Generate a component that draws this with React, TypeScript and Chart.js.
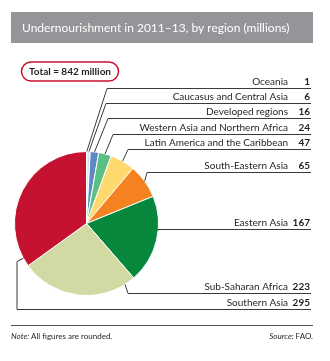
import React, { useEffect, useRef } from "react";
import { Chart, registerables } from "chart.js";

Chart.register(...registerables);

const regions = [
  "Oceania",
  "Caucasus and Central Asia",
  "Developed regions",
  "Western Asia and Northern Africa",
  "Latin America and the Caribbean",
  "South-Eastern Asia",
  "Eastern Asia",
  "Sub-Saharan Africa",
  "Southern Asia",
];
const values = [1, 6, 16, 24, 47, 65, 167, 223, 295];
const colors = [
  "#a9aeb5",
  "#d9e0e8",
  "#5b8ac6",
  "#5abf83",
  "#fdd96e",
  "#f58220",
  "#06873b",
  "#d3d9a2",
  "#c41230",
];
const titleText = "Undernourishment in 2011\u201313, by region (millions)";
const totalText = "Total = 842 million";

// leader layout: line y, anchor fraction within slice, elbow points
const leaders = [
  { y: 88, frac: 0.5, elbows: [[107, 88]] },
  { y: 103, frac: 0.6, elbows: [[106, 103]] },
  { y: 118, frac: 0.5, elbows: [[108, 118]] },
  { y: 134, frac: 0.5, elbows: [[113, 134]] },
  { y: 149, frac: 0.5, elbows: [[128, 149]] },
  { y: 172, frac: 0.5, elbows: [[147, 172]] },
  { y: 229, frac: 0.39, elbows: [[158, 229]] },
  { y: 293, frac: 0.09, elbows: [[128, 293]] },
  { y: 309, frac: 0.056, elbows: [[17, 261], [17, 309]] },
];

const FONT = "Lato, 'Open Sans', sans-serif";
const LINE_RIGHT = 311;

const decorPlugin = {
  id: "decor",
  afterDraw(chart: any) {
    const ctx = chart.ctx as CanvasRenderingContext2D;
    ctx.save();
    // title bar
    ctx.fillStyle = "#939598";
    ctx.fillRect(11, 12, 302, 31);
    ctx.fillStyle = "#ffffff";
    ctx.font = `12px ${FONT}`;
    ctx.textBaseline = "alphabetic";
    ctx.textAlign = "left";
    ctx.fillText(titleText, 22, 32);

    // total pill
    ctx.strokeStyle = "#c8102e";
    ctx.lineWidth = 1.5;
    ctx.beginPath();
    (ctx as any).roundRect(21.5, 62, 97, 19, 9.5);
    ctx.stroke();
    ctx.fillStyle = "#231f20";
    ctx.font = `bold 10px ${FONT}`;
    ctx.textAlign = "center";
    ctx.textBaseline = "middle";
    ctx.fillText(totalText, 70, 71.5);

    // leaders and labels
    const meta = chart.getDatasetMeta(0);
    ctx.strokeStyle = "#3a3a3a";
    ctx.lineWidth = 1;
    ctx.textBaseline = "alphabetic";
    meta.data.forEach((arc: any, i: number) => {
      const L = leaders[i];
      const p = arc.getProps(["x", "y", "startAngle", "endAngle", "outerRadius"], true);
      const a = p.startAngle + L.frac * (p.endAngle - p.startAngle);
      const ax = p.x + Math.cos(a) * p.outerRadius;
      const ay = p.y + Math.sin(a) * p.outerRadius;
      ctx.beginPath();
      ctx.moveTo(ax, ay);
      L.elbows.forEach(([ex, ey]) => ctx.lineTo(ex, ey + 0.5));
      ctx.lineTo(LINE_RIGHT, L.y + 0.5);
      ctx.stroke();

      ctx.fillStyle = "#231f20";
      ctx.font = `10px ${FONT}`;
      ctx.textAlign = "right";
      ctx.fillText(regions[i], 288, L.y - 3);
      ctx.font = `bold 10px ${FONT}`;
      ctx.fillText(String(values[i]), 310, L.y - 3);
    });

    // footer
    ctx.strokeStyle = "#555555";
    ctx.lineWidth = 1;
    ctx.beginPath();
    ctx.moveTo(11, 325.5);
    ctx.lineTo(313, 325.5);
    ctx.stroke();
    ctx.fillStyle = "#231f20";
    ctx.textAlign = "left";
    ctx.font = `italic 8px ${FONT}`;
    ctx.fillText("Note:", 11, 339);
    const w1 = ctx.measureText("Note: ").width;
    ctx.font = `8px ${FONT}`;
    ctx.fillText("All figures are rounded.", 11 + w1, 339);
    const srcRest = "FAO.";
    const wRest = ctx.measureText(srcRest).width;
    ctx.textAlign = "right";
    ctx.fillText(srcRest, 313, 339);
    ctx.font = `italic 8px ${FONT}`;
    ctx.fillText("Source: ", 313 - wRest, 339);
    ctx.restore();
  },
};

export default function App() {
  const ref = useRef<HTMLCanvasElement>(null);
  useEffect(() => {
    document.body.style.margin = "0";
    const chart = new Chart(ref.current!, {
      type: "pie",
      data: {
        labels: regions,
        datasets: [
          {
            data: values,
            backgroundColor: colors,
            borderColor: "#ffffff",
            borderWidth: 1,
          },
        ],
      },
      options: {
        responsive: false,
        animation: false,
        layout: { padding: { left: 14, right: 171, top: 151, bottom: 65 } },
        plugins: { legend: { display: false }, tooltip: { enabled: false } },
      },
      plugins: [decorPlugin],
    });
    return () => chart.destroy();
  }, []);
  return (
    <div style={{ width: 330, height: 361, background: "#fff" }}>
      <canvas ref={ref} width={330} height={361} style={{ display: "block" }} />
    </div>
  );
}
